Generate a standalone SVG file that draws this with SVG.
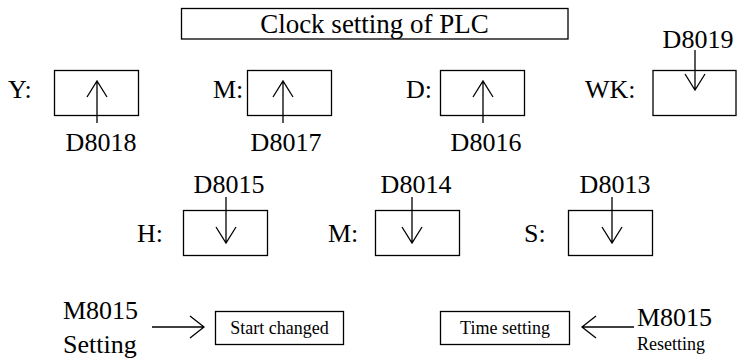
<svg xmlns="http://www.w3.org/2000/svg" width="737" height="358" viewBox="0 0 737 358">
<style>
.box{fill:#fff;stroke:#000;stroke-width:1.3}
.t{font-family:'Liberation Serif','Times New Roman',Tinos,'DejaVu Serif',serif;font-size:26px;fill:#000}
.s{font-family:'Liberation Serif','Times New Roman',Tinos,'DejaVu Serif',serif;font-size:18px;fill:#000}
.ln{fill:none;stroke:#000;stroke-width:1.3}
</style>
<rect width="737" height="358" fill="#fff"/>
<g id="title">
<rect class="box" x="181.5" y="8.5" width="386.5" height="30.5"/>
<text class="t" x="374.5" y="33" text-anchor="middle" style="font-size:27px">Clock setting of PLC</text>
</g>
<g id="node-Y">
<text class="t" x="8" y="98">Y:</text>
<rect class="box" x="54.5" y="70.5" width="84" height="45"/>
</g>
<g id="node-M1">
<text class="t" x="213" y="98">M:</text>
<rect class="box" x="247.5" y="70.5" width="84" height="45"/>
</g>
<g id="node-D">
<text class="t" x="406" y="98">D:</text>
<rect class="box" x="440.5" y="70.5" width="84" height="45"/>
</g>
<g id="node-WK">
<text class="t" x="585" y="98">WK:</text>
<rect class="box" x="653" y="70.5" width="83" height="45"/>
</g>
<g id="node-H">
<text class="t" x="137" y="242">H:</text>
<rect class="box" x="183.5" y="210.5" width="84" height="45"/>
</g>
<g id="node-M2">
<text class="t" x="328" y="242">M:</text>
<rect class="box" x="375.5" y="210.5" width="84" height="45"/>
</g>
<g id="node-S">
<text class="t" x="524" y="242">S:</text>
<rect class="box" x="568.5" y="210.5" width="84" height="45"/>
</g>
<g id="node-start">
<rect class="box" x="215.5" y="311.5" width="128" height="33"/>
<text class="s" x="279.5" y="333.5" text-anchor="middle">Start changed</text>
</g>
<g id="node-time">
<rect class="box" x="440.5" y="311.5" width="129" height="33"/>
<text class="s" x="505" y="333.5" text-anchor="middle">Time setting</text>
</g>
<g id="labels">
<text class="t" x="101" y="151" text-anchor="middle">D8018</text>
<text class="t" x="286" y="151" text-anchor="middle">D8017</text>
<text class="t" x="486" y="151" text-anchor="middle">D8016</text>
<text class="t" x="698" y="48" text-anchor="middle">D8019</text>
<text class="t" x="229" y="193" text-anchor="middle">D8015</text>
<text class="t" x="416" y="193" text-anchor="middle">D8014</text>
<text class="t" x="615" y="193" text-anchor="middle">D8013</text>
<text class="t" x="63" y="319">M8015</text>
<text class="t" x="63" y="353">Setting</text>
<text class="t" x="637" y="326">M8015</text>
<text class="s" x="637" y="350">Resetting</text>
</g>
<g id="connectors">
<path class="ln" d="M97,123V81M87,97L97,81L107,97"/>
<path class="ln" d="M283,123V81M273,97L283,81L293,97"/>
<path class="ln" d="M483,123V81M473,97L483,81L493,97"/>
<path class="ln" d="M695,50V90M685,74L695,90L705,74"/>
<path class="ln" d="M226,197V243M216,227L226,243L236,227"/>
<path class="ln" d="M412,197V243M402,227L412,243L422,227"/>
<path class="ln" d="M612,197V243M602,227L612,243L622,227"/>
<path class="ln" d="M152,327H204M190,316L204,327L190,338"/>
<path class="ln" d="M634,327H582M596,316L582,327L596,338"/>
</g>
</svg>
